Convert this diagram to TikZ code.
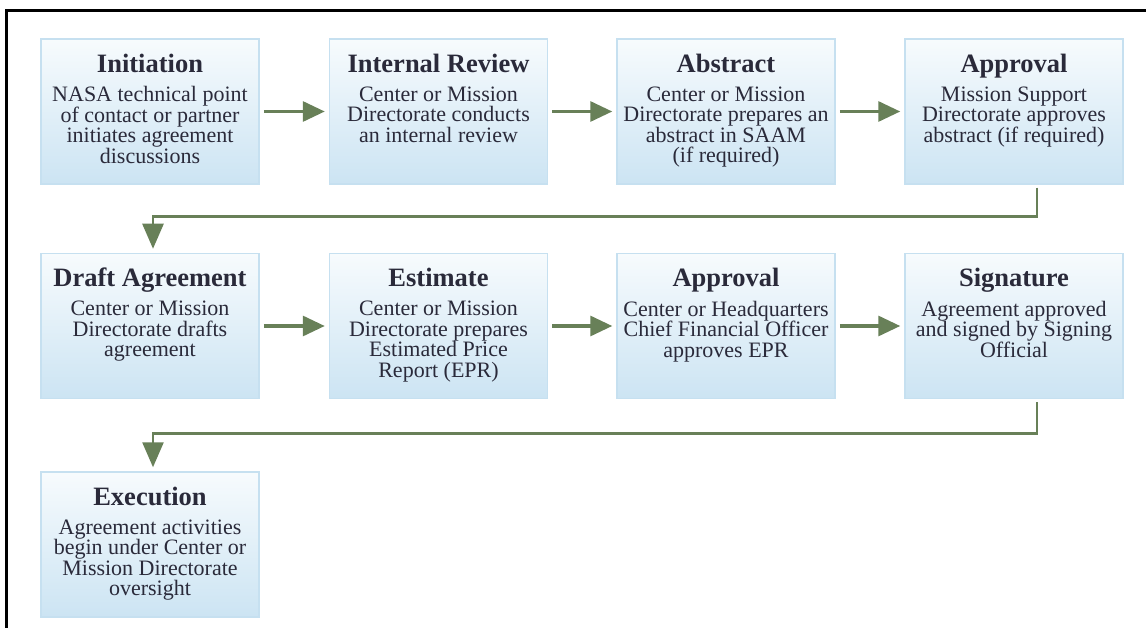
\documentclass[tikz,border=0pt]{standalone}
\usepackage{fontspec}
\setmainfont{Liberation Serif}
\usetikzlibrary{arrows.meta,calc}
\definecolor{txt}{RGB}{42,42,58}
\definecolor{boxtop}{RGB}{247,251,253}
\definecolor{boxbot}{RGB}{204,228,243}
\definecolor{boxline}{RGB}{198,224,240}
\definecolor{arr}{RGB}{104,128,88}
\tikzset{
  stage/.style={draw=boxline, line width=1.5pt, top color=boxtop, bottom color=boxbot,
    minimum width=218pt, minimum height=145pt, inner sep=0pt},
  ttl/.style={anchor=base, inner sep=0pt, text=txt, font={\fontsize{26.5}{28}\selectfont\bfseries}},
  body/.style={anchor=north, inner sep=0pt, align=center, text=txt, font={\fontsize{22}{20.5}\selectfont}},
  harrow/.style={draw=arr, line width=3.2pt, -{Triangle[length=22pt,width=20pt]}},
  conn/.style={draw=arr, line width=2.6pt, -{Triangle[length=25pt,width=21pt]}},
}
\begin{document}
\begin{tikzpicture}[x=1pt,y=1pt]
\useasboundingbox (0,0) rectangle (1146,-628);
\fill[white] (0,0) rectangle (1146,-628);
\draw[line width=3pt] (6,-640) -- (6,-11) -- (1160,-11);
% boxes
\node[stage] (n1) at (150,-111.5) {};
\node[stage] (n2) at (438.5,-111.5) {};
\node[stage] (n3) at (726,-111.5) {};
\node[stage] (n4) at (1014,-111.5) {};
\node[stage] (n5) at (150,-326) {};
\node[stage] (n6) at (438.5,-326) {};
\node[stage] (n7) at (726,-326) {};
\node[stage] (n8) at (1014,-326) {};
\node[stage] (n9) at (150,-544.5) {};
% titles
\node[ttl] (t1) at ([yshift=-34pt]n1.north) {Initiation};
\node[ttl] (t2) at ([yshift=-34pt]n2.north) {Internal Review};
\node[ttl] (t3) at ([yshift=-34pt]n3.north) {Abstract};
\node[ttl] (t4) at ([yshift=-34pt]n4.north) {Approval};
\node[ttl] (t5) at ([yshift=-34pt]n5.north) {Draft Agreement};
\node[ttl] (t6) at ([yshift=-34pt]n6.north) {Estimate};
\node[ttl] (t7) at ([yshift=-34pt]n7.north) {Approval};
\node[ttl] (t8) at ([yshift=-34pt]n8.north) {Signature};
\node[ttl] (t9) at ([yshift=-34pt]n9.north) {Execution};
% bodies
\node[body] (b1) at ([yshift=-48pt]n1.north) {NASA technical point\\of contact or partner\\initiates agreement\\discussions};
\node[body] (b2) at ([yshift=-48pt]n2.north) {Center or Mission\\Directorate conducts\\an internal review};
\node[body] (b3) at ([yshift=-48pt]n3.north) {Center or Mission\\Directorate prepares an\\abstract in SAAM\\(if required)};
\node[body] (b4) at ([yshift=-48pt]n4.north) {Mission Support\\Directorate approves\\abstract (if required)};
\node[body] (b5) at ([yshift=-48pt]n5.north) {Center or Mission\\Directorate drafts\\agreement};
\node[body] (b6) at ([yshift=-48pt]n6.north) {Center or Mission\\Directorate prepares\\Estimated Price\\Report (EPR)};
\node[body] (b7) at ([yshift=-48pt]n7.north) {Center or Headquarters\\Chief Financial Officer\\approves EPR};
\node[body] (b8) at ([yshift=-48pt]n8.north) {Agreement approved\\and signed by Signing\\Official};
\node[body] (b9) at ([yshift=-48pt]n9.north) {Agreement activities\\begin under Center or\\Mission Directorate\\oversight};
% horizontal arrows
\draw[harrow] ([xshift=4pt]n1.east) -- ([xshift=-4pt]n2.west);
\draw[harrow] ([xshift=4pt]n2.east) -- ([xshift=-4pt]n3.west);
\draw[harrow] ([xshift=4pt]n3.east) -- ([xshift=-4pt]n4.west);
\draw[harrow] ([xshift=4pt]n5.east) -- ([xshift=-4pt]n6.west);
\draw[harrow] ([xshift=4pt]n6.east) -- ([xshift=-4pt]n7.west);
\draw[harrow] ([xshift=4pt]n7.east) -- ([xshift=-4pt]n8.west);
% elbow connectors
\draw[conn] ([xshift=23pt,yshift=-3pt]n4.south) -- ++(0,-29) -| ([xshift=3pt,yshift=4pt]n5.north);
\draw[conn] ([xshift=23pt,yshift=-3pt]n8.south) -- ++(0,-31) -| ([xshift=3pt,yshift=4pt]n9.north);
\end{tikzpicture}
\end{document}
